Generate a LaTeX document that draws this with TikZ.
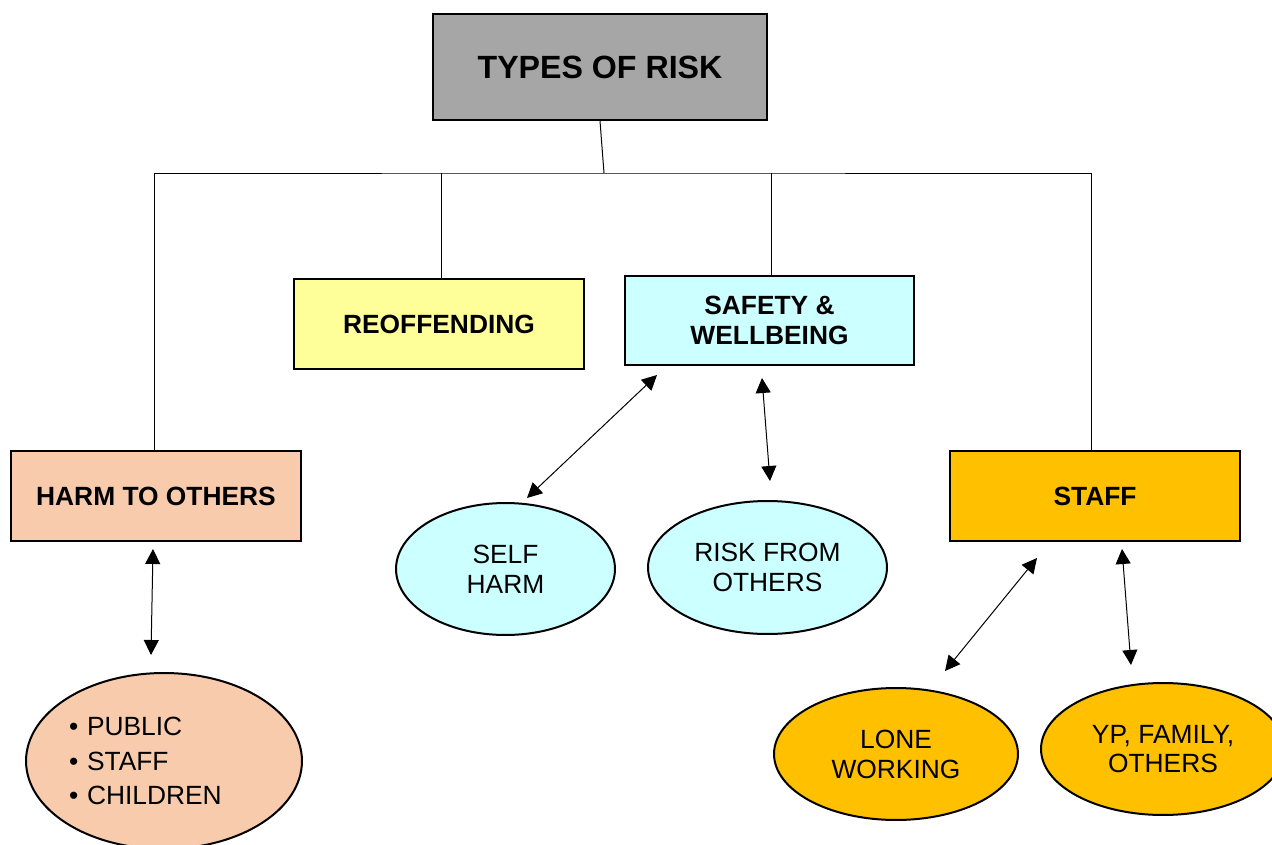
\documentclass[tikz,border=0pt]{standalone}
\usepackage{fontspec}
\setmainfont{Liberation Sans}
\usetikzlibrary{arrows.meta,calc,shapes.geometric}
\definecolor{trGrey}{HTML}{A6A6A6}
\definecolor{trLemon}{HTML}{FFFF99}
\definecolor{trAqua}{HTML}{CCFFFF}
\definecolor{trPeach}{HTML}{F8CBAD}
\definecolor{trAmber}{HTML}{FFC000}
\tikzset{
  tr box/.style={
    draw=black,
    line width=.4mm,
    minimum width=5.8cm,
    minimum height=1.8cm,
    inner sep=0pt,
    font=\bfseries\fontsize{15}{17.5}\selectfont,
    align=center
  },
  tr oval/.style={
    ellipse,
    draw=black,
    line width=.4mm,
    inner sep=0pt,
    font=\fontsize{15}{17}\selectfont,
    align=center
  },
  tr branch/.style={draw=black, line width=.2mm},
  tr link/.style={
    draw=black,
    line width=.2mm,
    {Triangle[length=3mm,width=3mm]}-{Triangle[length=3mm,width=3mm]}
  }
}
\begin{document}
\begin{tikzpicture}[x=0.02cm,y=-0.02cm]
  \useasboundingbox (0,0) rectangle (1272,845);
  \clip (0,0) rectangle (1272,845);

  % boxes
  \node[tr box, fill=trGrey, minimum width=6.68cm, minimum height=2.12cm,
    font=\bfseries\fontsize{18.3}{22}\selectfont] (types) at (600,67) {TYPES OF RISK};
  \node[tr box, fill=trLemon] (reoffend) at (439,324) {REOFFENDING};
  \node[tr box, fill=trAqua, minimum width=5.78cm, minimum height=1.78cm] (safety) at (769.5,320.5) {SAFETY \&\\WELLBEING};
  \node[tr box, fill=trPeach] (harm) at (156,496) {HARM TO OTHERS};
  \node[tr box, fill=trAmber] (staff) at (1095,496) {STAFF};

  % ovals
  \node[tr oval, fill=trPeach, minimum width=5.52cm, minimum height=3.52cm,
    text width=3.8cm, align=left, font=\fontsize{15}{19.8}\selectfont] (public) at (164,761)
    {\textbullet\ PUBLIC\\\textbullet\ STAFF\\\textbullet\ CHILDREN};
  \node[tr oval, fill=trAqua, minimum width=4.38cm, minimum height=2.64cm] (selfharm) at (505.5,569) {SELF\\HARM};
  \node[tr oval, fill=trAqua, minimum width=4.78cm, minimum height=2.66cm] (fromothers) at (767.5,567.5) {RISK FROM\\OTHERS};
  \node[tr oval, fill=trAmber, minimum width=4.88cm, minimum height=2.64cm] (lone) at (896,754) {LONE\\WORKING};
  \node[tr oval, fill=trAmber, minimum width=4.88cm, minimum height=2.64cm] (family) at (1163,749) {YP, FAMILY,\\OTHERS};

  % tree
  \coordinate (hub) at (604,173);
  \draw[tr branch] (types.south) -- (hub);
  \draw[tr branch] ($(harm.north)+(-2,0)$) |- (hub) -| ($(staff.north)+(-4,0)$);
  \draw[tr branch] ($(reoffend.north)+(2,0)$) -- ($(reoffend.north |- hub)+(2,0)$);
  \draw[tr branch] ($(safety.north)+(1.5,0)$) -- ($(safety.north |- hub)+(1.5,0)$);

  % two-way links
  \coordinate (harm up) at (153,549);
  \coordinate (harm down) at (151,655);
  \coordinate (self up) at (657,375);
  \coordinate (self down) at (527,498);
  \coordinate (others up) at (762,378);
  \coordinate (others down) at (770,481);
  \coordinate (lone up) at (1037,558);
  \coordinate (lone down) at (945,671);
  \coordinate (family up) at (1122,549);
  \coordinate (family down) at (1131,665);
  \draw[tr link] (harm up) -- (harm down);
  \draw[tr link] (self up) -- (self down);
  \draw[tr link] (others up) -- (others down);
  \draw[tr link] (lone up) -- (lone down);
  \draw[tr link] (family up) -- (family down);
\end{tikzpicture}
\end{document}
